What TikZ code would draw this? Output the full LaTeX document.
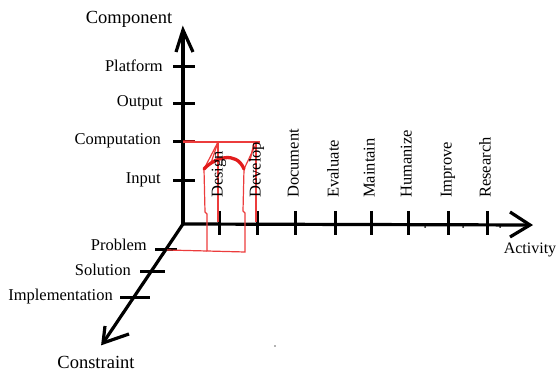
\documentclass[tikz,border=0pt]{standalone}
\usepackage{fontspec}
\setmainfont{Liberation Serif}
\definecolor{redline}{RGB}{236,60,60}
\definecolor{redthick}{RGB}{226,28,28}
\definecolor{tickred}{RGB}{150,20,20}
\begin{document}
\begin{tikzpicture}[x=1pt,y=-1pt,
  axisline/.style={line width=3.2pt},
  barb/.style={line width=3.2pt, line join=miter},
  tickline/.style={line width=3pt},
  thinred/.style={draw=redline, line width=1.2pt},
  thickred/.style={draw=redthick, line width=3.3pt, line cap=round},
  ticklab/.style={font=\fontsize{16.5}{18}\selectfont, inner sep=0pt},
  vlab/.style={ticklab, rotate=90, anchor=west, text height=0.7em, text depth=0.2em},
  axtitle/.style={font=\fontsize{18.5}{20}\selectfont, inner sep=0pt},
  speck/.style={fill=black, draw=none}]
\useasboundingbox (0,0) rectangle (557,371);

% axes
\coordinate (O) at (183,224);
\coordinate (Ytip) at (183,30);
\coordinate (Xtip) at (530,225);
\coordinate (Ztip) at (103,343);
\draw[axisline] (O) -- (Ytip);
\draw[axisline] (O) -- (Xtip);
\draw[axisline] (O) -- (Ztip);

% arrowheads
\coordinate (Yb1) at (176,52);
\coordinate (Yb2) at (193,52);
\coordinate (Xb1) at (510,212);
\coordinate (Xb2) at (510,237);
\coordinate (Zb1) at (105,326);
\coordinate (Zb2) at (129,334);
\draw[barb] (Yb1) -- (Ytip) -- (Yb2);
\draw[barb] (Xb1) -- (Xtip) -- (Xb2);
\draw[barb] (Zb1) -- (Ztip) -- (Zb2);

% ticks on the component axis
\foreach \y/\n in {67/platform,104/output,142/computation,181/input}{
  \coordinate (\n L) at (173,\y);
  \coordinate (\n R) at (195,\y);
  \draw[tickline] (\n L) -- (\n R);
}
% ticks on the activity axis
\foreach \x/\n in {219/design,257/develop,295/document,335/evaluate,371/maintain,408/humanize,448/improve,487/research}{
  \coordinate (\n T) at (\x,211);
  \coordinate (\n B) at (\x,235);
  \draw[tickline] (\n T) -- (\n B);
}
% ticks on the constraint axis
\coordinate (problemL) at (155,250);
\coordinate (problemR) at (177,250);
\coordinate (solutionL) at (140,272);
\coordinate (solutionR) at (165,272);
\coordinate (implL) at (120,298);
\coordinate (implR) at (150,298);
\draw[tickline] (problemL) -- (problemR);
\draw[tickline] (solutionL) -- (solutionR);
\draw[tickline] (implL) -- (implR);

% specks
\fill[speck] (425,227) circle (1pt);
\fill[speck] (463,227) circle (1pt);
\fill[speck] (500,227) circle (1pt);
\fill[black!60] (275,346) circle (0.8pt);

% red sketch
\coordinate (r0) at (183,142);
\coordinate (r1) at (260,142);
\coordinate (rdt) at (195,142);
\draw[draw=tickred, line width=3pt] (r0) -- (rdt);
\draw[thinred] (r0) -- (r1);
\coordinate (a1) at (218,142);
\coordinate (a2) at (204,169);
\coordinate (a2b) at (211,163);
\coordinate (a3) at (205,212);
\coordinate (a4) at (207,214);
\coordinate (a5) at (207,251);
\coordinate (a6) at (245,252);
\coordinate (a7) at (245,213);
\coordinate (a8) at (243,211);
\coordinate (a9) at (244,169);
\coordinate (a10) at (257,142);
\coordinate (a10b) at (250,161);
\coordinate (a11) at (254,142);
\draw[thinred] (a1) -- (a2) -- (a3) -- (a4) -- (a5) -- (a6) -- (a7) -- (a8) -- (a9) -- (a10);
\draw[thinred] (a1) -- (a2b);
\draw[thinred] (a11) -- (a10b);
\coordinate (pb) at (167,250);
\draw[thinred] (pb) -- (a5);
\coordinate (d1) at (218,142);
\coordinate (d2) at (218,222);
\coordinate (e1) at (256,142);
\coordinate (e2) at (256,222);
\draw[thinred] (d1) -- (d2);
\draw[thinred] (e1) -- (e2);
\draw[thickred] (a2) .. controls (214,158) and (236,150) .. (a9);

% labels on the component axis
\node[ticklab, anchor=east] (platform) at (163,66) {Platform};
\node[ticklab, anchor=east] (output) at (163,103) {Output};
\node[ticklab, anchor=east] (computation) at (161,141) {Computation};
\node[ticklab, anchor=east] (input) at (161,180) {Input};

% labels on the activity axis
\foreach \x/\t in {220/Design,258/Develop,296/Document,336/Evaluate,372/Maintain,409/Humanize,449/Improve,488/Research}{
  \node[vlab] (lab\t) at (\x,198) {\t};
}

% labels on the constraint axis
\node[ticklab, anchor=east] (problem) at (147,245) {Problem};
\node[ticklab, anchor=east] (solution) at (131,270) {Solution};
\node[ticklab, anchor=east] (impl) at (113,297) {Implementation};

% axis titles
\node[axtitle] (component) at (129,19) {Component};
\node[axtitle] (constraint) at (96,362) {Constraint};
\node[ticklab, font=\fontsize{16}{18}\selectfont] (activity) at (530,250) {Activity};
\end{tikzpicture}
\end{document}
